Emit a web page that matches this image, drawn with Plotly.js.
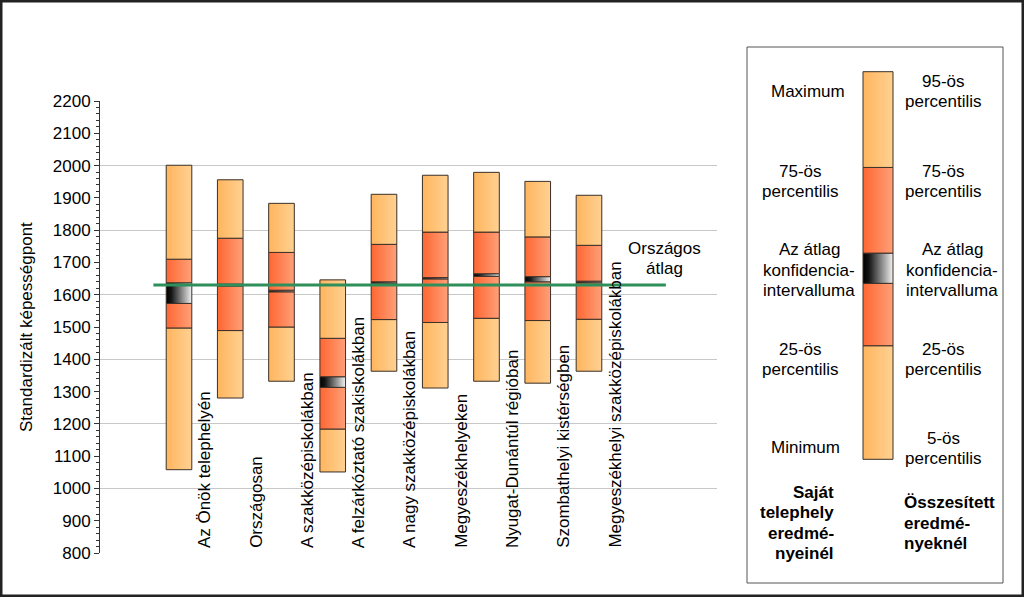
<!DOCTYPE html>
<html>
<head>
<meta charset="utf-8">
<script src="https://cdn.plot.ly/plotly-3.0.1.min.js"></script>
<style>html,body{margin:0;padding:0;background:#fff;}#chart{width:1024px;height:597px;}</style>
</head>
<body>
<div id="chart"></div>
<script>
// ---- data ----
const categories = ["Az Önök telephelyén", "Országosan", "A szakközépiskolákban", "A felzárkóztató szakiskolákban", "A nagy szakközépiskolákban", "Megyeszékhelyeken", "Nyugat-Dunántúl régióban", "Szombathelyi kistérségben", "Megyeszékhelyi szakközépiskolákban"];
const positions = [1, 2, 3, 4, 5, 6, 7, 8, 9];
const p5     = [1058, 1280, 1332, 1051, 1363, 1311, 1332, 1326, 1363];
const p25    = [1497, 1489, 1500, 1184, 1523, 1514, 1527, 1520, 1524];
const ciLow  = [1573, 1627, 1609, 1313, 1636, 1649, 1657, 1640, 1637];
const ciHigh = [1637, 1633, 1614, 1346, 1640, 1653, 1665, 1656, 1642];
const p75    = [1710, 1775, 1731, 1465, 1756, 1794, 1794, 1779, 1753];
const p95    = [2001, 1956, 1883, 1646, 1911, 1970, 1979, 1951, 1908];
const nationalMean = 1630;
const nationalLabel = ["Országos", "átlag"];
const yTitle = "Standardizált képességpont";
// legend key bar (relative scale 0-100)
const keyBounds = [0, 29.3, 45.4, 53.2, 75.3, 100];
const keyLeft = [["Maximum"], ["75-ös", "percentilis"], ["Az átlag", "konfidencia-", "intervalluma"], ["25-ös", "percentilis"], ["Minimum"]];
const keyRight = [["95-ös", "percentilis"], ["75-ös", "percentilis"], ["Az átlag", "konfidencia-", "intervalluma"], ["25-ös", "percentilis"], ["5-ös", "percentilis"]];
const keyLeftTitle = ["Saját", "telephely", "eredmé-", "nyeinél"];
const keyRightTitle = ["Összesített", "eredmé-", "nyeknél"];

// ---- styles ----
const FONT = "Liberation Sans, Arial, sans-serif";
const W = 1024, H = 597;
const solid = {light: "#FFC27A", dark: "#FF7D4D", ci: "#777777"};
const outline = {color: "#3a3028", width: 1};
const diff = (a, b) => a.map((v, i) => v - b[i]);

function seg(kind, base, top, xa, ya, xs, w) {
  return {type: "bar", x: xs, base: base, y: diff(top, base), width: w,
    xaxis: xa, yaxis: ya, meta: kind, hoverinfo: "skip", showlegend: false,
    marker: {color: solid[kind], line: outline}};
}

const traces = [
  seg("light", p5, p25, "x", "y", positions, 0.5),
  seg("dark", p25, ciLow, "x", "y", positions, 0.5),
  seg("ci", ciLow, ciHigh, "x", "y", positions, 0.5),
  seg("dark", ciHigh, p75, "x", "y", positions, 0.5),
  seg("light", p75, p95, "x", "y", positions, 0.5)
];
const kinds = ["light", "dark", "ci", "dark", "light"];
for (let k = 0; k < 5; k++) {
  traces.push(seg(kinds[k], [keyBounds[k]], [keyBounds[k + 1]], "x2", "y2", [0], 1));
}
traces.push({type: "scatter", mode: "lines", xaxis: "x", yaxis: "y3",
  x: [positions[0] - 0.5, positions[positions.length - 1] + 1.5],
  y: [nationalMean, nationalMean], line: {color: "#2f8f5a", width: 3},
  hoverinfo: "skip", showlegend: false});

// ---- annotations ----
const ann = [];
categories.forEach((c, i) => {
  ann.push({xref: "x", yref: "y", x: positions[i] + 0.5, y: 800, text: c, textangle: -90,
    showarrow: false, xanchor: "center", yanchor: "bottom", yshift: 3,
    font: {family: FONT, size: 17, color: "#000"}});
});
function line(t, px, py, anchor, bold) {
  ann.push({xref: "paper", yref: "paper", x: px / W, y: (H - py) / H, text: bold ? "<b>" + t + "</b>" : t,
    showarrow: false, xanchor: anchor, yanchor: "middle",
    font: {family: FONT, size: 17, color: "#000"}});
}
nationalLabel.forEach((t, i) => line(t, 664, 248 + 20 * i, "center"));
const leftX = [808, 800.5, 809, 800.5, 805];
const leftY = [91, 171, 250, 349.3, 447.7];
const rightX = [943, 943, 952, 943, 943];
const rightY = [81.7, 171, 250, 349.3, 438.3];
keyLeft.forEach((blk, b) => blk.forEach((t, i) => line(t, leftX[b], leftY[b] + 20.3 * i, "center")));
keyRight.forEach((blk, b) => blk.forEach((t, i) => line(t, rightX[b], rightY[b] + 20.3 * i, "center")));
keyLeftTitle.forEach((t, i) => line(t, 836, 492.7 + 20.2 * i, "right", true));
keyRightTitle.forEach((t, i) => line(t, 902, 502.7 + 20.3 * i, "left", true));
ann.push({xref: "paper", yref: "paper", x: 26 / W, y: (H - 327) / H, text: yTitle, textangle: -90,
  showarrow: false, xanchor: "center", yanchor: "middle", font: {family: FONT, size: 17, color: "#000"}});

const yDomain = [(H - 553) / H, (H - 101) / H];
const layout = {
  width: W, height: H, margin: {l: 0, r: 0, t: 0, b: 0},
  paper_bgcolor: "#fff", plot_bgcolor: "rgba(0,0,0,0)",
  barmode: "overlay", showlegend: false,
  font: {family: FONT, size: 17, color: "#000"},
  xaxis: {domain: [100 / W, 717 / W], range: [-0.5415, 11.498], showticklabels: false, ticks: "",
    showgrid: false, zeroline: false, showline: false, fixedrange: true},
  yaxis: {domain: yDomain, range: [800, 2200], tick0: 800, dtick: 100, ticks: "outside", ticklen: 5,
    tickcolor: "#333", showline: true, linecolor: "#333", linewidth: 1, showgrid: false, zeroline: false,
    tickfont: {family: FONT, size: 17, color: "#000"},
    minor: {dtick: 20, ticks: "outside", ticklen: 3, tickcolor: "#333", showgrid: false}},
  yaxis3: {overlaying: "y", range: [800, 2200], tick0: 800, dtick: 200, showgrid: true,
    gridcolor: "#c8c8c8", gridwidth: 1, showticklabels: false, ticks: "", zeroline: false, showline: false},
  xaxis2: {domain: [860 / W, 896 / W], range: [-0.6, 0.6], visible: false, fixedrange: true},
  yaxis2: {domain: [(H - 467.05) / H, (H - 63.95) / H], range: [-2, 102], visible: false, fixedrange: true},
  annotations: ann,
  shapes: [
    {type: "rect", xref: "paper", yref: "paper", x0: 747 / W, x1: 1003 / W, y0: (H - 583) / H, y1: (H - 47) / H,
      line: {color: "#555", width: 1}},
    {type: "rect", xref: "paper", yref: "paper", x0: 0, x1: 1, y0: 0, y1: 1,
      line: {color: "#222", width: 5}}
  ]
};

const gd = document.getElementById("chart");
Plotly.newPlot(gd, traces, layout, {displayModeBar: false, staticPlot: true}).then(() => {
  const ns = "http://www.w3.org/2000/svg";
  const svg = gd.querySelector(".main-svg");
  let defs = svg.querySelector("defs");
  if (!defs) { defs = document.createElementNS(ns, "defs"); svg.insertBefore(defs, svg.firstChild); }
  const grads = {
    light: [["0", "#FFB55E"], ["1", "#FFD192"]],
    dark: [["0", "#FF6632"], ["1", "#FFA078"]],
    ci: [["0", "#000000"], ["0.2", "#151515"], ["1", "#F2F2F2"]]
  };
  Object.keys(grads).forEach(k => {
    const lg = document.createElementNS(ns, "linearGradient");
    lg.setAttribute("id", "grad-" + k);
    lg.setAttribute("x1", "0"); lg.setAttribute("y1", "0");
    lg.setAttribute("x2", "1"); lg.setAttribute("y2", "0");
    grads[k].forEach(([o, c]) => {
      const s = document.createElementNS(ns, "stop");
      s.setAttribute("offset", o); s.setAttribute("stop-color", c);
      lg.appendChild(s);
    });
    defs.appendChild(lg);
  });
  gd.querySelectorAll(".barlayer .trace").forEach(g => {
    const cd = g.__data__;
    const tr = cd && cd[0] && cd[0].trace;
    if (!tr || !tr.meta) return;
    g.querySelectorAll("path").forEach(p => { p.style.fill = "url(#grad-" + tr.meta + ")"; });
  });
});
</script>
</body>
</html>
